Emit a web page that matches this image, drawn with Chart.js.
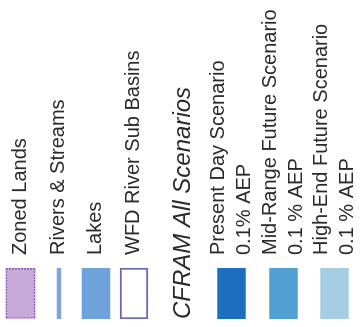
<!DOCTYPE html>
<html><head><meta charset="utf-8">
<script src="https://cdn.jsdelivr.net/npm/chart.js@4/dist/chart.umd.min.js"></script>
<style>
html,body{margin:0;padding:0;background:#fff;overflow:hidden;width:361px;height:327px;}
#wrap{position:absolute;left:0;top:0;width:327px;height:361px;transform-origin:0 0;transform:translate(0,327px) rotate(-90deg);}
</style></head><body>
<div id="wrap"><canvas id="c"></canvas></div>
<script>
// ---- data ----
const categories = ['Zoned Lands', 'Rivers & Streams', 'Lakes', 'WFD River Sub Basins',
  'CFRAM All Scenarios', 'Present Day Scenario', 'Mid-Range Future Scenario', 'High-End Future Scenario'];
const subLabels = ['', '', '', '', '', '0.1% AEP', '0.1 % AEP', '0.1 % AEP'];
const swatchKind = ['zoned', 'line', 'box', 'box', 'heading', 'box', 'box', 'box'];
const swatchSpan = [[0, 1], [0, 1], [0, 1], [0, 1], null, [0, 1], [0, 1], [0, 1]];

// ---- layout (not data) ----
const LAYOUT = {
  rowGaps: [0.532, 1.0, 0.961, 0.987, 1.273, 1.26, 1.351, 1.325],
  extent: 9.377,
  padLeft: 8,
  swatchRight: 59,
  width: 327,
  textGap: 13,
  thick: { zoned: 30, line: 4, box: 28 }
};
const rowPos = [];
LAYOUT.rowGaps.reduce((acc, g) => { const p = acc + g; rowPos.push(p); return p; }, 0);

// ---- style ----
const pc = document.createElement('canvas'); pc.width = 3; pc.height = 3;
const pg = pc.getContext('2d');
pg.fillStyle = '#cfb7de'; pg.fillRect(0, 0, 3, 3);
pg.fillStyle = '#8c62b8'; pg.fillRect(0, 0, 2, 2);
const dotPattern = pg.createPattern(pc, 'repeat');
const STYLE = {
  fill: ['#c8a9d8', '#82a5d6', '#6ea2db', '#ffffff', null, '#1d6ebe', '#50a0d4', '#a5cee3'],
  border: [dotPattern, '#82a5d6', '#6ea2db', '#6c6aae', null, '#1d6ebe', '#50a0d4', '#a5cee3'],
  borderWidth: [2, 0, 0, 2, 0, 0, 0, 0],
  text: '#2a2a2a',
  font: 'Liberation Sans'
};

function dataset(kind) {
  const idx = swatchKind.map((k, i) => k === kind ? i : -1).filter(i => i >= 0);
  return {
    data: idx.map(i => ({ y: rowPos[i], x: swatchSpan[i] })),
    backgroundColor: idx.map(i => STYLE.fill[i]),
    borderColor: idx.map(i => STYLE.border[i]),
    borderWidth: idx.map(i => STYLE.borderWidth[i]),
    borderSkipped: false,
    barThickness: LAYOUT.thick[kind],
    grouped: false,
    yAxisID: 'y',
    xAxisID: 'x'
  };
}

const itemIdx = swatchKind.map((k, i) => k !== 'heading' ? i : -1).filter(i => i >= 0);
const headIdx = swatchKind.map((k, i) => k === 'heading' ? i : -1).filter(i => i >= 0);

new Chart(document.getElementById('c'), {
  type: 'bar',
  data: { datasets: [dataset('zoned'), dataset('line'), dataset('box')] },
  options: {
    indexAxis: 'y',
    responsive: true,
    maintainAspectRatio: false,
    devicePixelRatio: 1,
    animation: false,
    layout: { padding: { left: LAYOUT.padLeft, right: 0, top: 0, bottom: 0 } },
    plugins: { legend: { display: false }, tooltip: { enabled: false } },
    scales: {
      x: { type: 'linear', min: 0, max: 1, display: false },
      y: {
        type: 'linear', position: 'right', min: 0, max: LAYOUT.extent, reverse: true,
        bounds: 'data', offset: false,
        grid: { display: false, drawTicks: false, tickLength: 0 },
        border: { display: false },
        afterBuildTicks: s => { s.ticks = itemIdx.map(i => ({ value: rowPos[i] })); },
        afterFit: s => { s.width = LAYOUT.width - LAYOUT.swatchRight; s.paddingTop = 0; s.paddingBottom = 0; },
        ticks: {
          autoSkip: false, crossAlign: 'near', padding: LAYOUT.textGap, color: STYLE.text,
          font: { family: STYLE.font, size: 20, lineHeight: 1.27 },
          callback: (v, i) => {
            const k = itemIdx[i];
            return subLabels[k] ? [categories[k], subLabels[k]] : categories[k];
          }
        }
      },
      yHead: {
        type: 'linear', position: 'left', min: 0, max: LAYOUT.extent, reverse: true,
        bounds: 'data', offset: false,
        grid: { display: false, drawTicks: false, tickLength: 0 },
        border: { display: false },
        afterBuildTicks: s => { s.ticks = headIdx.map(i => ({ value: rowPos[i] })); },
        afterFit: s => { s.width = 0; s.paddingTop = 0; s.paddingBottom = 0; },
        ticks: {
          mirror: true, autoSkip: false, crossAlign: 'near', padding: 0, color: STYLE.text,
          font: { family: STYLE.font, size: 24, style: 'italic', lineHeight: 1.2 },
          callback: (v, i) => categories[headIdx[i]]
        }
      }
    }
  }
});
</script>
</body></html>
